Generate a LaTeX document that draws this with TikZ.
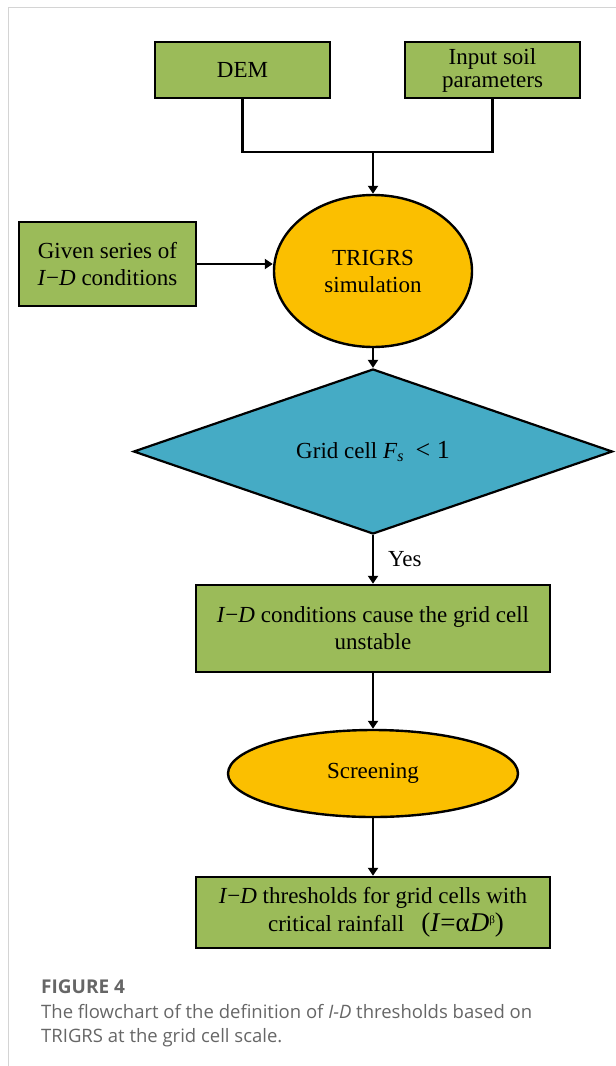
\documentclass[tikz,border=0pt]{standalone}
\usepackage{fontspec}
\setmainfont{Liberation Serif}
\newfontfamily\capfont{Open Sans}
\usetikzlibrary{arrows.meta,shapes.geometric}
\definecolor{boxgreen}{HTML}{9BBB59}
\definecolor{ellorange}{HTML}{FBBF00}
\definecolor{diablue}{HTML}{45ABC5}
\definecolor{capgray}{HTML}{666666}
\definecolor{framegray}{HTML}{D4D4D4}
\newcommand{\IDtxt}{\textit{I}−\textit{D}}
\begin{document}
\begin{tikzpicture}[x=1pt,y=-1pt,
  every node/.style={font=\fontsize{23}{27}\selectfont, inner sep=0pt, align=center},
  gbox/.style={draw=black, line width=2.4pt, fill=boxgreen, rectangle},
  oell/.style={draw=black, line width=2.4pt, fill=ellorange, ellipse},
  bdia/.style={draw=black, line width=2.2pt, fill=diablue, diamond, aspect=2.9},
  conn/.style={line width=2.2pt, draw=black},
  arr/.style={conn, -{Triangle[width=10pt,length=8pt]}},
  captxt/.style={font=\capfont\fontsize{18.5}{24}\selectfont, text=capgray, anchor=base west, align=left}
]
\useasboundingbox (0,0) rectangle (616,1066);
\draw[framegray, line width=1pt] (8.5,1066) -- (8.5,7.5) -- (616,7.5);

\node[gbox, minimum width=175pt, minimum height=56pt] (dem) at (242.5,70) {DEM};
\node[gbox, minimum width=175pt, minimum height=56pt] (soil) at (492.5,70) {Input soil\\[-4pt]parameters};
\node[gbox, minimum width=177pt, minimum height=84pt] (given) at (107.5,264) {Given series of\\\IDtxt{} conditions};
\node[oell, minimum width=198pt, minimum height=152pt] (trigrs) at (373,271) {TRIGRS\\simulation};
\node[bdia, minimum width=479pt, minimum height=165pt] (dia) at (373,451.5) {Grid cell \textit{F}\textsubscript{\textit{s}}~~{\fontsize{26}{26}\selectfont< 1}};
\node[gbox, minimum width=354pt, minimum height=87pt] (unst) at (373,628.5) {\IDtxt{} conditions cause the grid cell\\unstable};
\node[oell, minimum width=290pt, minimum height=87pt] (screen) at (373,773.5) {Screening};
\node[gbox, minimum width=354pt, minimum height=71pt] (thr) at (373,912.5) {\IDtxt{} thresholds for grid cells with\\[1pt]\hspace*{26pt}critical rainfall~~~{\fontsize{27}{27}\selectfont(\textit{I}=α\textit{D}\raisebox{8pt}{\fontsize{11}{11}\selectfont β})}};

\coordinate (j) at (373,152);
\draw[conn] (dem.south) |- (j) -| (soil.south);
\draw[arr] (j) -- (trigrs.north);
\draw[arr] (given.east) -- (trigrs.west |- given.east);
\draw[arr] (trigrs.south) -- (dia.north);
\draw[arr] (dia.south) -- node[right=14pt] {Yes} (unst.north);
\draw[arr] (unst.south) -- (screen.north);
\draw[arr] (screen.south) -- (thr.north);

\node[captxt, font=\capfont\bfseries\fontsize{19}{24}\selectfont] (fig) at (41,993) {FIGURE 4};
\node[captxt] (cap1) at (41,1018) {The flowchart of the definition of \textit{I-D} thresholds based on};
\node[captxt] (cap2) at (41,1042) {TRIGRS at the grid cell scale.};
\end{tikzpicture}
\end{document}
